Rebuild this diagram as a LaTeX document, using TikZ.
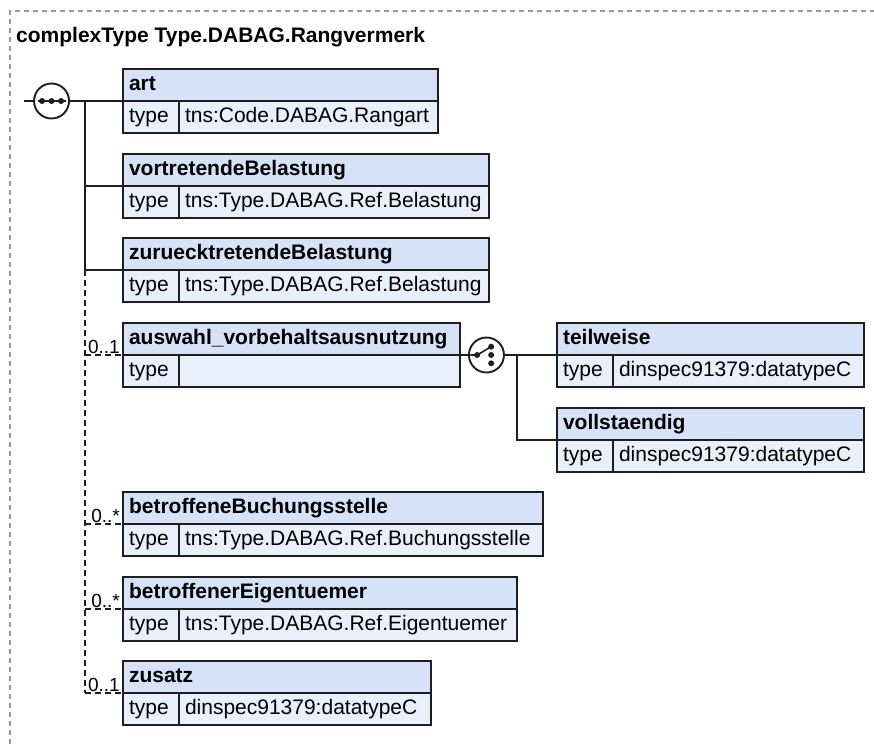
\documentclass[tikz,border=0pt]{standalone}
\usepackage{fontspec}
\setmainfont{Liberation Sans}
\usetikzlibrary{positioning}
\definecolor{xsdHead}{HTML}{D6E2F7}
\definecolor{xsdRow}{HTML}{EAF0FB}
\definecolor{xsdLine}{HTML}{1E1E1E}
\definecolor{xsdFrame}{HTML}{9A9A9A}
\newcommand{\iconSeq}{\tikz[x=1pt,y=1pt]{
  \draw[xsdLine,line width=1.6pt] (-14,0) -- (14,0);
  \fill[xsdLine] (-9.5,0) circle (3) (0,0) circle (3) (9.5,0) circle (3);}}
\newcommand{\iconChoice}{\tikz[x=1pt,y=1pt]{
  \useasboundingbox (-12,-12) rectangle (12,12);
  \draw[xsdLine,line width=1.6pt] (-16,0) -- (-9.3,0) -- (4.7,8.3);
  \fill[xsdLine] (-9.3,0) circle (3) (4.7,8.3) circle (3) (4.7,0) circle (3) (4.7,-8.3) circle (3);}}
% element box: id, x, y (top left), width, name, type
\newcommand{\xsdElem}[6]{%
  \pgfmathsetmacro{\headW}{#4-12}%
  \pgfmathsetmacro{\valW}{#4-56-12}%
  \node[elemhead, text width=\headW pt] (#1) at (#2,#3) {#5};
  \node[elemkey] (#1-key) at (#1.south west) {type};
  \node[elemval, text width=\valW pt] (#1-val) at (#1-key.north east) {\mbox{#6}};}

\begin{document}
\begin{tikzpicture}[
    x=1pt, y=-1pt,
    font=\fontsize{21}{24}\selectfont,
    elemhead/.style={draw=xsdLine, line width=1.9pt, fill=xsdHead, anchor=north west,
                     font=\fontsize{21}{24}\selectfont\bfseries, align=left,
                     minimum height=32pt, inner xsep=6pt, inner ysep=0pt,
                     text height=15pt, text depth=4.5pt, outer sep=0pt},
    elemkey/.style={elemhead, fill=xsdRow, font=\fontsize{21}{24}\selectfont, text width=44pt},
    elemval/.style={elemkey},
    compositor/.style={draw=xsdLine, line width=1.9pt, fill=white, circle,
                       minimum size=35pt, inner sep=0pt},
    conn/.style={draw=xsdLine, line width=1.7pt},
    optconn/.style={conn, dash pattern=on 6pt off 4pt},
    mult/.style={font=\fontsize{19}{21}\selectfont, inner sep=0pt, anchor=base east},
    frame/.style={draw=xsdFrame, line width=1.1pt, dash pattern=on 5pt off 4pt}
]
\useasboundingbox (0,0) rectangle (874,744);

% -- frame and title
\draw[frame] (10,744) -- (10,11) -- (874,11);
\node[anchor=base west, font=\fontsize{21}{24}\selectfont\bfseries, inner sep=0pt] (title)
  at (16,42) {complexType Type.DABAG.Rangvermerk};

% -- elements
\xsdElem{art}{123}{69}{315}{art}{tns:Code.DABAG.Rangart}
\xsdElem{vort}{123}{154}{366}{vortretendeBelastung}{tns:Type.DABAG.Ref.Belastung}
\xsdElem{zurueck}{123}{238}{366}{zuruecktretendeBelastung}{tns:Type.DABAG.Ref.Belastung}
\xsdElem{auswahl}{123}{323}{337}{auswahl\_vorbehaltsausnutzung}{}
\xsdElem{teilweise}{557}{323}{307}{teilweise}{dinspec91379:datatypeC}
\xsdElem{vollst}{557}{408}{307}{vollstaendig}{dinspec91379:datatypeC}
\xsdElem{buchung}{123}{492}{420}{betroffeneBuchungsstelle}{tns:Type.DABAG.Ref.Buchungsstelle}
\xsdElem{eigent}{123}{577}{394}{betroffenerEigentuemer}{tns:Type.DABAG.Ref.Eigentuemer}
\xsdElem{zusatz}{123}{661}{308}{zusatz}{dinspec91379:datatypeC}

% -- sequence
\node[compositor, left=53pt of art.south west] (seq) {\iconSeq};
\coordinate (seq-in) at ([xshift=-9.5pt]seq.west);
\coordinate (trunk) at ([xshift=-38pt]art.south west);
\draw[conn] (seq-in) -- (seq);
\draw[conn] (seq) -- (art.south west);
\draw[conn] (trunk) |- (vort.south west);
\draw[conn] (trunk) |- (zurueck.south west);
\draw[optconn] (trunk |- zurueck.south west) -- (trunk |- zusatz.south west);
\foreach \n in {auswahl,buchung,eigent,zusatz}
  \draw[optconn] (trunk |- \n.south west) -- (\n.south west);

% -- multiplicities
\node[mult] (auswahl-mult) at ([shift={(-3pt,2pt)}]auswahl.south west) {0..1};
\node[mult] (buchung-mult) at ([shift={(-3pt,2pt)}]buchung.south west) {0..*};
\node[mult] (eigent-mult) at ([shift={(-3pt,2pt)}]eigent.south west) {0..*};
\node[mult] (zusatz-mult) at ([shift={(-3pt,2pt)}]zusatz.south west) {0..1};

% -- choice
\node[compositor, right=8pt of auswahl.south east] (choice) {\iconChoice};
\coordinate (choice-trunk) at ([xshift=-40pt]teilweise.south west);
\draw[conn] (auswahl.south east) -- (choice);
\draw[conn] (choice) -- (teilweise.south west);
\draw[conn] (choice-trunk) |- (vollst.south west);

\end{tikzpicture}
\end{document}
